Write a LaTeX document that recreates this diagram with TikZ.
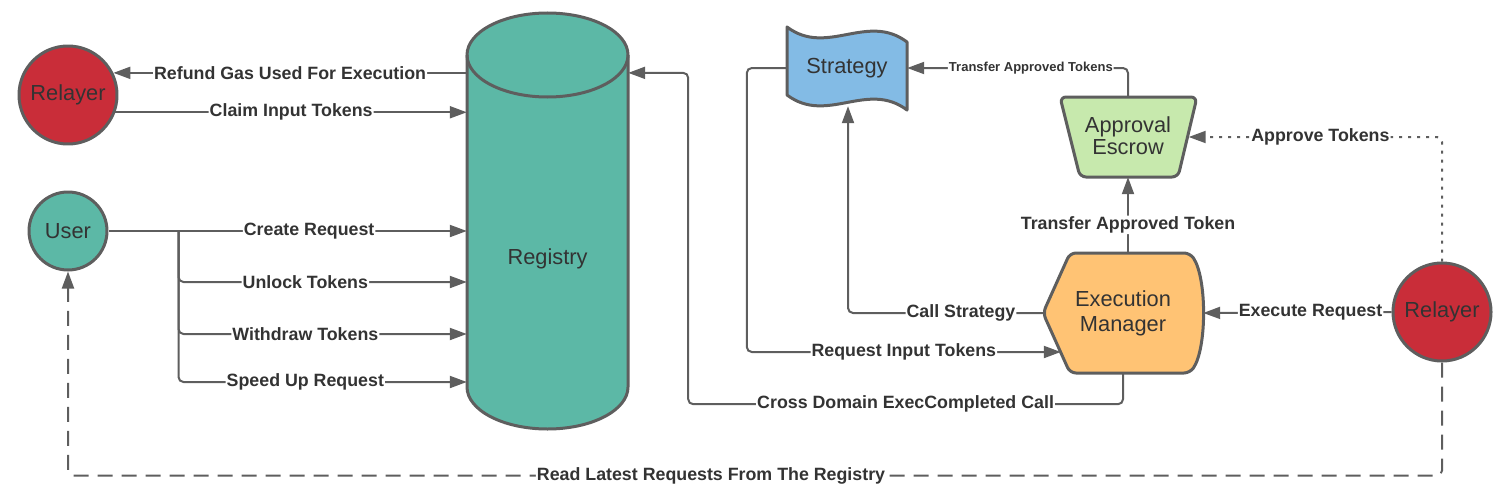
\documentclass[tikz,border=0pt]{standalone}
\usepackage{fontspec}
\setmainfont{Liberation Sans}
\usetikzlibrary{arrows.meta,calc}
\definecolor{linegray}{HTML}{5E5E5E}
\definecolor{txtgray}{HTML}{333333}
\definecolor{relayred}{HTML}{C92D39}
\definecolor{regteal}{HTML}{5CB8A6}
\definecolor{stratblue}{HTML}{83BBE5}
\definecolor{escgreen}{HTML}{C7E9AD}
\definecolor{exeorange}{HTML}{FFC374}
\tikzset{
    outline/.style={draw=linegray, line width=3pt, line join=round},
    actor/.style={circle, outline, text=txtgray, font=\fontsize{21.8}{25}\selectfont, inner sep=0pt},
    shapetext/.style={text=txtgray, font=\fontsize{21.8}{25}\selectfont, align=center, inner sep=0pt},
    conn/.style={draw=linegray, line width=2pt, rounded corners=5pt, -{Triangle[length=17pt,width=12pt]}},
    lbl/.style={fill=white, text=txtgray, font=\fontsize{17.8}{20}\selectfont\bfseries, inner sep=1pt},
    smalllbl/.style={lbl, font=\fontsize{13}{15}\selectfont\bfseries},
}
\begin{document}
\begin{tikzpicture}[x=1pt,y=-1pt]
    \useasboundingbox (0,0) rectangle (1503,495);
    % shapes
    \draw[outline, fill=regteal] (467,55) -- (467,387) arc[start angle=180, end angle=360, x radius=80.5pt, y radius=42pt] -- (628,55) arc[start angle=0, end angle=180, x radius=80.5pt, y radius=42pt] -- cycle;
    \draw[outline] (467,55) arc[start angle=180, end angle=360, x radius=80.5pt, y radius=42pt];
    \draw[outline, fill=stratblue] (787,27) .. controls (827,57) and (867,12) .. (907,42) -- (907,110) .. controls (867,80) and (827,125) .. (787,95) -- cycle;
    \draw[outline, fill=escgreen, rounded corners=6pt] (1060,97) -- (1197,97) -- (1178,177) -- (1080,177) -- cycle;
    \draw[outline, fill=exeorange, rounded corners=6pt] (1043,313) -- (1070,253) -- (1190,253) .. controls (1207,278) and (1207,348) .. (1190,373) -- (1070,373) -- cycle;

    \node[actor, fill=relayred, minimum size=98pt] (rl) at (68,95) {Relayer};
    \node[actor, fill=regteal, minimum size=78pt] (user) at (68,231) {User};
    \node[actor, fill=relayred, minimum size=98pt] (rr) at (1442,312) {Relayer};
    \node[shapetext, minimum width=161pt] (reg) at (547.5,259) {Registry};
    \node[shapetext, minimum width=120pt, minimum height=76pt] (strat) at (847,68) {Strategy};
    \node[shapetext, minimum width=137pt, minimum height=80pt] (esc) at (1128,137) {\raisebox{3pt}{\shortstack{Approval\\Escrow}}};
    \node[shapetext, minimum width=160pt, minimum height=120pt] (exe) at (1123,313) {Execution\\Manager};

    % connectors
    \draw[conn] (rl.26 -| reg.west) -- node[lbl]{Refund Gas Used For Execution} (rl.26);
    \draw[conn] (rl.-20) -- node[lbl]{Claim Input Tokens} (rl.-20 -| reg.west);
    \draw[conn] (user.east) -- node[lbl, pos=0.56]{Create Request} (user.east -| reg.west);
    \coordinate (fork) at ($(user.east)+(70,0)$);
    \draw[conn] (fork) |- node[lbl, pos=0.72]{Unlock Tokens} ($(user.east -| reg.west)+(0,51)$);
    \draw[conn] (fork) |- node[lbl, pos=0.72]{Withdraw Tokens} ($(user.east -| reg.west)+(0,103)$);
    \draw[conn] (fork) |- node[lbl, pos=0.72]{Speed Up Request} ($(user.east -| reg.west)+(0,151)$);
    \draw[conn] (exe.south) -- ++(0,31) -| node[lbl, pos=0.25]{Cross Domain ExecCompleted Call} ($(rl.26 -| reg.east)+(60,0)$) -- (rl.26 -| reg.east);
    \draw[conn] (strat.west) -- ++(-40,0) |- node[lbl, pos=0.75]{Request Input Tokens} ($(exe.west)+(18,39)$);
    \draw[conn] (exe.west) -| node[lbl, pos=0.21]{Call Strategy} ($(strat.south)+(1,0)$);
    \draw[conn] (esc.south |- exe.north) -- node[lbl, pos=0.37]{Transfer Approved Token} (esc.south);
    \draw[conn] (esc.north) |- node[smalllbl, pos=0.72]{Transfer Approved Tokens} (strat.east);
    \draw[conn, dash pattern=on 3pt off 6pt] (rr.north) |- node[lbl, pos=0.74]{Approve Tokens} ($(esc.east)+(-8,0)$);
    \draw[conn] (rr.west) -- node[lbl, pos=0.43]{Execute Request} (exe.east);
    \draw[conn, dash pattern=on 15pt off 9pt] (rr.south) -- ++(0,113) -| node[lbl, pos=0.266]{Read Latest Requests From The Registry} (user.south);
\end{tikzpicture}
\end{document}
